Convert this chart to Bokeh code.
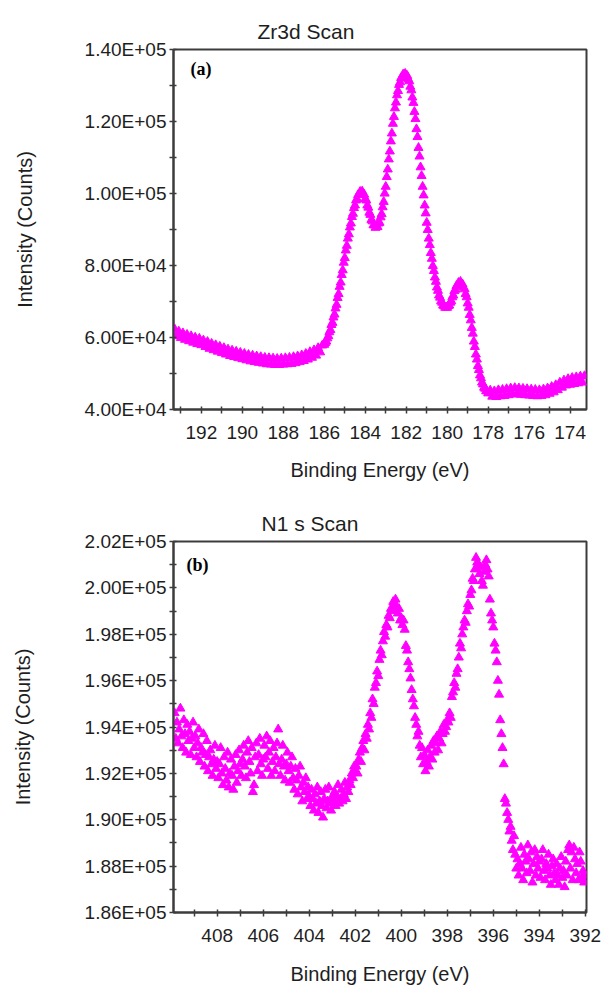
from bokeh.plotting import figure
from bokeh.layouts import column
from bokeh.models import Range1d, FixedTicker, Label
from bokeh.embed import file_html
from bokeh.resources import INLINE

# ---------------- Zr3d scan (panel a) ----------------
zr_energy = [
    193.3, 193.2, 193.1, 193.0, 192.9, 192.8, 192.7, 192.6, 192.5, 192.4,
    192.3, 192.2, 192.1, 192.0, 191.9, 191.8, 191.7, 191.6, 191.5, 191.4,
    191.3, 191.2, 191.1, 191.0, 190.9, 190.8, 190.7, 190.6, 190.5, 190.4,
    190.3, 190.2, 190.1, 190.0, 189.9, 189.8, 189.7, 189.6, 189.5, 189.4,
    189.3, 189.2, 189.1, 189.0, 188.9, 188.8, 188.7, 188.6, 188.5, 188.4,
    188.3, 188.2, 188.1, 188.0, 187.9, 187.8, 187.7, 187.6, 187.5, 187.4,
    187.3, 187.2, 187.1, 187.0, 186.9, 186.8, 186.7, 186.6, 186.5, 186.4,
    186.3, 186.2, 186.1,
    186.00, 185.95, 185.90, 185.85, 185.80, 185.75, 185.70, 185.65, 185.60, 185.55,
    185.50, 185.45, 185.40, 185.35, 185.30, 185.25, 185.20, 185.15, 185.10, 185.05,
    185.00, 184.95, 184.90, 184.85, 184.80, 184.75, 184.70, 184.65, 184.60, 184.55,
    184.50, 184.45, 184.40, 184.35, 184.30, 184.25, 184.20, 184.15, 184.10, 184.05,
    184.00, 183.95, 183.90, 183.85, 183.80, 183.75, 183.70, 183.65, 183.60, 183.55,
    183.50, 183.45, 183.40, 183.35, 183.30, 183.25, 183.20, 183.15, 183.10, 183.05,
    183.00, 182.95, 182.90, 182.85, 182.80, 182.75, 182.70, 182.65, 182.60, 182.55,
    182.50, 182.45, 182.40, 182.35, 182.30, 182.25, 182.20, 182.15, 182.10, 182.05,
    182.00, 181.95, 181.90, 181.85, 181.80, 181.75, 181.70, 181.65, 181.60, 181.55,
    181.50, 181.45, 181.40, 181.35, 181.30, 181.25, 181.20, 181.15, 181.10, 181.05,
    181.00, 180.95, 180.90, 180.85, 180.80, 180.75, 180.70, 180.65, 180.60, 180.55,
    180.50, 180.45, 180.40, 180.35, 180.30, 180.25, 180.20, 180.15, 180.10, 180.05,
    180.00, 179.95, 179.90, 179.85, 179.80, 179.75, 179.70, 179.65, 179.60, 179.55,
    179.50, 179.45, 179.40, 179.35, 179.30, 179.25, 179.20, 179.15, 179.10, 179.05,
    179.00, 178.95, 178.90, 178.85, 178.80, 178.75, 178.70, 178.65, 178.60, 178.55,
    178.50, 178.45, 178.40, 178.35, 178.30, 178.25, 178.20, 178.15, 178.10, 178.05,
    178.00,
    177.9, 177.8, 177.7, 177.6, 177.5, 177.4, 177.3, 177.2, 177.1, 177.0,
    176.9, 176.8, 176.7, 176.6, 176.5, 176.4, 176.3, 176.2, 176.1, 176.0,
    175.9, 175.8, 175.7, 175.6, 175.5, 175.4, 175.3, 175.2, 175.1, 175.0,
    174.9, 174.8, 174.7, 174.6, 174.5, 174.4, 174.3, 174.2, 174.1, 174.0,
    173.9, 173.8, 173.7, 173.6, 173.5, 173.4, 173.3,
]
zr_counts = [
    62300, 60400, 61700, 59900, 61200, 59400, 60800, 59000, 60400, 58600,
    60000, 58200, 59700, 57900, 59200, 57400, 58800, 56900, 58300, 56500,
    57900, 56100, 57500, 55700, 57100, 55300, 56700, 54900, 56400, 54600,
    56100, 54300, 55800, 54000, 55500, 53700, 55200, 53400, 55000, 53200,
    54800, 53000, 54600, 52800, 54400, 52600, 54300, 52500, 54200, 52400,
    54100, 52400, 54200, 52500, 54300, 52600, 54400, 52700, 54600, 52900,
    54800, 53200, 55100, 53500, 55500, 53900, 56000, 54400, 56500, 55000,
    57100, 55900, 57800,
    58000, 58500, 58900, 59800, 60400, 61500, 62100, 63500, 64100, 65600,
    66400, 68100, 69100, 71000, 72100, 74100, 75300, 77400, 78700, 80800,
    82100, 84200, 85500, 87500, 88700, 90600, 91700, 93500, 94400, 96000,
    96700, 98100, 98500, 99600, 99700, 100500, 100100, 100600, 99700, 99700,
    98500, 98100, 96700, 96100, 94700, 94100, 92700, 92300, 91200, 91200,
    90500, 91100, 90700, 91700, 91900, 93400, 94300, 96200, 97700, 100000,
    101900, 104600, 106700, 109500, 111700, 114500, 116700, 119400, 121300, 123700,
    125300, 127300, 128500, 130200, 130900, 132100, 132300, 133100, 132900, 133300,
    132700, 132700, 131700, 131200, 129700, 128700, 126700, 125200, 122700, 120700,
    117900, 115700, 112700, 110300, 107300, 104900, 101900, 99500, 96700, 94500,
    91900, 89900, 87500, 85700, 83500, 81900, 79900, 78500, 76700, 75500,
    73900, 73000, 71700, 71100, 70100, 69700, 68900, 68800, 68300, 68400,
    68300, 68800, 68900, 69700, 70100, 71200, 71700, 72900, 73300, 74300,
    74500, 75200, 75100, 75500, 74900, 74800, 73900, 73400, 72100, 71200,
    69500, 68300, 66300, 64800, 62700, 61100, 58900, 57400, 55300, 53900,
    52100, 51000, 49500, 48700, 47500, 47000, 46100, 45800, 45100, 45100,
    44500,
    45300, 43600, 45100, 43500, 45400, 43700, 45500, 43800, 45700, 44000,
    45900, 44200, 46000, 44300, 45900, 44100, 45800, 44000, 45700, 43900,
    45600, 43800, 45500, 43700, 45400, 43800, 45600, 44000, 45900, 44400,
    46300, 44800, 46800, 45400, 47500, 46100, 48100, 46700, 48500, 46900,
    48800, 47100, 49000, 47300, 49200, 47500, 49300,
]
zr_x_ticks = [192, 190, 188, 186, 184, 182, 180, 178, 176, 174]
zr_x_minor = [193, 191, 189, 187, 185, 183, 181, 179, 177, 175, 173]
zr_y_ticks = [40000, 60000, 80000, 100000, 120000, 140000]
zr_y_labels = ["4.00E+04", "6.00E+04", "8.00E+04", "1.00E+05", "1.20E+05", "1.40E+05"]
zr_y_minor = [50000, 70000, 90000, 110000, 130000]

# ---------------- N1s scan (panel b) ----------------
n1s_energy = [
    409.85, 409.80, 409.75, 409.70, 409.65, 409.60, 409.55, 409.50, 409.45, 409.40,
    409.35, 409.30, 409.25, 409.20, 409.15, 409.10, 409.05, 409.00,
    408.95, 408.90, 408.85, 408.80, 408.75, 408.70, 408.65, 408.60, 408.55, 408.50,
    408.45, 408.40, 408.35, 408.30, 408.25, 408.20, 408.15, 408.10, 408.05, 408.00,
    407.95, 407.90, 407.85, 407.80, 407.75, 407.70, 407.65, 407.60, 407.55, 407.50,
    407.45, 407.40, 407.35, 407.30, 407.25, 407.20, 407.15, 407.10, 407.05, 407.00,
    406.95, 406.90, 406.85, 406.80, 406.75, 406.70, 406.65, 406.60, 406.55, 406.50,
    406.45, 406.40, 406.35, 406.30, 406.25, 406.20, 406.15, 406.10, 406.05, 406.00,
    405.95, 405.90, 405.85, 405.80, 405.75, 405.70, 405.65, 405.60, 405.55, 405.50,
    405.45, 405.40, 405.35, 405.30, 405.25, 405.20, 405.15, 405.10, 405.05, 405.00,
    404.95, 404.90, 404.85, 404.80, 404.75, 404.70, 404.65, 404.60, 404.55, 404.50,
    404.45, 404.40, 404.35, 404.30, 404.25, 404.20, 404.15, 404.10, 404.05, 404.00,
    403.95, 403.90, 403.85, 403.80, 403.75, 403.70, 403.65, 403.60, 403.55, 403.50,
    403.45, 403.40, 403.35, 403.30, 403.25, 403.20, 403.15, 403.10, 403.05, 403.00,
    402.95, 402.90, 402.85, 402.80, 402.75, 402.70, 402.65, 402.60, 402.55, 402.50,
    402.45, 402.40, 402.35, 402.30, 402.25, 402.20, 402.15, 402.10, 402.05, 402.00,
    401.95, 401.90, 401.85, 401.80, 401.75, 401.70, 401.65, 401.60, 401.55, 401.50,
    401.45, 401.40, 401.35, 401.30, 401.25, 401.20, 401.15, 401.10, 401.05, 401.00,
    400.95, 400.90, 400.85, 400.80, 400.75, 400.70, 400.65, 400.60, 400.55, 400.50,
    400.45, 400.40, 400.35, 400.30, 400.25, 400.20, 400.15, 400.10, 400.05, 400.00,
    399.95, 399.90, 399.85, 399.80, 399.75, 399.70, 399.65, 399.60, 399.55, 399.50,
    399.45, 399.40, 399.35, 399.30, 399.25, 399.20, 399.15, 399.10, 399.05, 399.00,
    398.95, 398.90, 398.85, 398.80, 398.75, 398.70, 398.65, 398.60, 398.55, 398.50,
    398.45, 398.40, 398.35, 398.30, 398.25, 398.20, 398.15, 398.10, 398.05, 398.00,
    397.95, 397.90, 397.85, 397.80, 397.75, 397.70, 397.65, 397.60, 397.55, 397.50,
    397.45, 397.40, 397.35, 397.30, 397.25, 397.20, 397.15, 397.10, 397.05, 397.00,
    396.95, 396.90, 396.85, 396.80, 396.75, 396.70, 396.65, 396.60, 396.55, 396.50,
    396.45, 396.40, 396.35, 396.30, 396.25, 396.20, 396.15, 396.10, 396.05, 396.00,
    395.95, 395.90, 395.85, 395.80, 395.75, 395.70, 395.65, 395.60, 395.55, 395.50,
    395.45, 395.40, 395.35, 395.30, 395.25, 395.20, 395.15, 395.10, 395.05, 395.00,
    394.95, 394.90, 394.85, 394.80, 394.75, 394.70, 394.65, 394.60, 394.55, 394.50,
    394.45, 394.40, 394.35, 394.30, 394.25, 394.20, 394.15, 394.10, 394.05, 394.00,
    393.95, 393.90, 393.85, 393.80, 393.75, 393.70, 393.65, 393.60, 393.55, 393.50,
    393.45, 393.40, 393.35, 393.30, 393.25, 393.20, 393.15, 393.10, 393.05, 393.00,
    392.95, 392.90, 392.85, 392.80, 392.75, 392.70, 392.65, 392.60, 392.55, 392.50,
    392.45, 392.40, 392.35, 392.30, 392.25, 392.20, 392.15, 392.10, 392.05, 392.00,
]
n1s_counts = [
    194600, 193500, 194200, 193300, 193900, 194800, 193600, 193100, 194300, 193700,
    192900, 194100, 193400, 193800, 192800, 193500, 194200, 193100,
    193600, 192700, 193300, 193900, 192500, 193100, 192900, 193700, 192300, 192800,
    193400, 192100, 192700, 193000, 192400, 191900, 192600, 193200, 192200, 192500,
    191800, 192400, 193100, 192000, 191500, 192700, 192200, 191700, 192900, 191400,
    192000, 192600, 191900, 191300, 192300, 192800, 191600, 192100, 193000, 192400,
    191900, 192600, 193200, 192300, 191800, 192900, 193400, 192500, 192000, 193100,
    191200, 191500, 192700, 193300, 192100, 192800, 193500, 192400, 191900, 192600,
    193200, 192700, 193600, 192200, 192900, 193400, 191900, 192500, 193100, 192100,
    192700, 193300, 193900, 192400, 191900, 192600, 193200, 192300, 191700, 192400,
    192900, 192100, 191600, 192300, 192700, 191800, 191300, 192200, 191700, 191100,
    191900, 192300, 191400, 190800, 191600, 191200, 191800, 190900, 191400, 191000,
    190600, 191300, 190900, 190400, 191100, 190700, 191400, 190300, 190800, 191200,
    190600, 190100, 190900, 191300, 190500, 190800, 191400, 190700, 190400, 191000,
    190800, 191200, 190600, 191000, 191500, 190700, 190900, 191300, 190800, 191100,
    191600, 190900, 191400, 191200, 191700, 191500, 192000, 191800, 192300, 192100,
    192300, 192000, 192600, 192900, 192500, 193100, 193400, 193000, 193700, 193500,
    194100, 193900, 194600, 194400, 195200, 195000, 195700, 195900, 196400, 196200,
    196900, 197300, 197100, 197700, 198100, 197900, 198400, 198300, 198800, 198700,
    199100, 199000, 199400, 199300, 199500, 199200, 198900, 199100, 198600, 198700,
    198400, 198600, 198200, 197500, 197300, 196800, 196500, 196100, 195600, 195200,
    194900, 194400, 194100, 193600, 193800, 193200, 192700, 193100, 192400, 192800,
    192100, 192500, 193000, 192300, 192700, 193200, 192600, 193400, 192900, 193300,
    193600, 193000, 193500, 193800, 193300, 193700, 194100, 193800, 194000, 194300,
    194200, 194600, 194400, 195300, 195500, 195900, 195700, 196300, 196500, 197000,
    197600, 197400, 198000, 198300, 198600, 198500, 199000, 199300, 199200, 199700,
    199900, 200400, 200300, 200800, 201300, 201100, 201000, 200600, 200900, 200300,
    200100, 200700, 201000, 201200, 200800, 200500, 199500, 198900, 198600, 198300,
    197600, 197300, 196800, 196000, 195400, 194300, 193700, 193100, 192400, 190900,
    190700, 190300, 190000, 189500, 189700, 189100, 188700, 189300, 188500, 187900,
    188300, 187600, 188100, 188800, 187900, 187400, 188500, 188200, 187700, 188900,
    188300, 187800, 188600, 187300, 188100, 188700, 187600, 188400, 187900, 188200,
    187500, 188300, 188700, 187800, 187400, 188100, 187900, 188500, 187600, 187200,
    188000, 188300, 187700, 187400, 188100, 187600, 187200, 187900, 188400, 187500,
    187800, 187100, 188200, 187600, 188700, 188900, 187900, 188600, 187400, 188800,
    188300, 187700, 188100, 187400, 188600, 188200, 187500, 187800, 187300, 187600,
]
n1s_x_ticks = [408, 406, 404, 402, 400, 398, 396, 394, 392]
n1s_x_minor = [409, 407, 405, 403, 401, 399, 397, 395, 393]
n1s_y_ticks = [186000, 188000, 190000, 192000, 194000, 196000, 198000, 200000, 202000]
n1s_y_labels = ["1.86E+05", "1.88E+05", "1.90E+05", "1.92E+05", "1.94E+05",
                "1.96E+05", "1.98E+05", "2.00E+05", "2.02E+05"]
n1s_y_minor = [187000, 189000, 191000, 193000, 195000, 197000, 199000, 201000]

assert len(zr_energy) == len(zr_counts)
assert len(n1s_energy) == len(n1s_counts)

FONT = "Liberation Sans"
AXC = "#3c3c3c"
TXT = "#1e1e1e"
MAGENTA = "#ff00ff"


def make_panel(energy, counts, xr, yr, xt, xm, yt, yl, ym, title, title_offset,
               title_lh, tag, tag_x, tag_y, height, b_top, b_bottom, b_right,
               xlab_standoff, xtitle_standoff, ytitle_standoff):
    p = figure(width=616, height=height, output_backend="svg", toolbar_location=None,
               x_range=Range1d(*xr), y_range=Range1d(*yr),
               min_border_left=173, min_border_right=b_right,
               min_border_top=b_top, min_border_bottom=b_bottom)
    p.background_fill_color = "white"
    p.border_fill_color = "white"
    p.outline_line_color = AXC
    p.outline_line_width = 2
    p.xgrid.visible = False
    p.ygrid.visible = False

    p.scatter(energy, counts, marker="triangle", size=9,
              fill_color=MAGENTA, line_color=MAGENTA)

    p.title.text = title
    p.title.align = "left"
    p.title.vertical_align = "top"
    p.title.offset = title_offset
    p.title.text_line_height = title_lh
    p.title.text_font = FONT
    p.title.text_font_size = "21px"
    p.title.text_font_style = "normal"
    p.title.text_color = TXT

    for ax in (p.xaxis[0], p.yaxis[0]):
        ax.axis_line_color = AXC
        ax.axis_line_width = 2
        ax.major_tick_line_color = AXC
        ax.minor_tick_line_color = AXC
        ax.major_tick_line_width = 1.5
        ax.minor_tick_line_width = 1.5
        ax.major_tick_in = 3
        ax.major_tick_out = 4
        ax.minor_tick_in = 3
        ax.minor_tick_out = 4
        ax.major_label_text_font = FONT
        ax.major_label_text_font_size = "19px"
        ax.major_label_text_color = TXT
        ax.axis_label_text_font = FONT
        ax.axis_label_text_font_size = "20px"
        ax.axis_label_text_font_style = "normal"
        ax.axis_label_text_color = TXT

    xa = p.xaxis[0]
    xa.ticker = FixedTicker(ticks=xt, minor_ticks=xm)
    xa.axis_label = "Binding Energy (eV)"
    xa.major_label_standoff = xlab_standoff
    xa.axis_label_standoff = xtitle_standoff

    ya = p.yaxis[0]
    ya.ticker = FixedTicker(ticks=yt, minor_ticks=ym)
    ya.major_label_overrides = {t: s for t, s in zip(yt, yl)}
    ya.axis_label = "Intensity (Counts)"
    ya.major_label_standoff = 3
    ya.axis_label_standoff = ytitle_standoff

    p.add_layout(Label(x=tag_x, y=tag_y, x_units="screen", y_units="screen",
                       text=tag, text_font="Liberation Serif", text_font_style="bold",
                       text_font_size="18px", text_baseline="top", text_align="left",
                       text_color="black"))
    return p


pa = make_panel(zr_energy, zr_counts, (193.36, 173.2), (40000, 140000),
                zr_x_ticks, zr_x_minor, zr_y_ticks, zr_y_labels, zr_y_minor,
                "Zr3d Scan", 84, 1.5, "(a)", 17, 351,
                496, 49, 87, 30, 12, 17, 46)
pb = make_panel(n1s_energy, n1s_counts, (409.9, 391.95), (186000, 202000),
                n1s_x_ticks, n1s_x_minor, n1s_y_ticks, n1s_y_labels, n1s_y_minor,
                "N1 s Scan", 88, 1.6, "(b)", 13, 358,
                496, 45, 80, 18, 12, 18, 48)

layout = column(pa, pb)
open("out.html", "w").write(file_html(layout, INLINE))
